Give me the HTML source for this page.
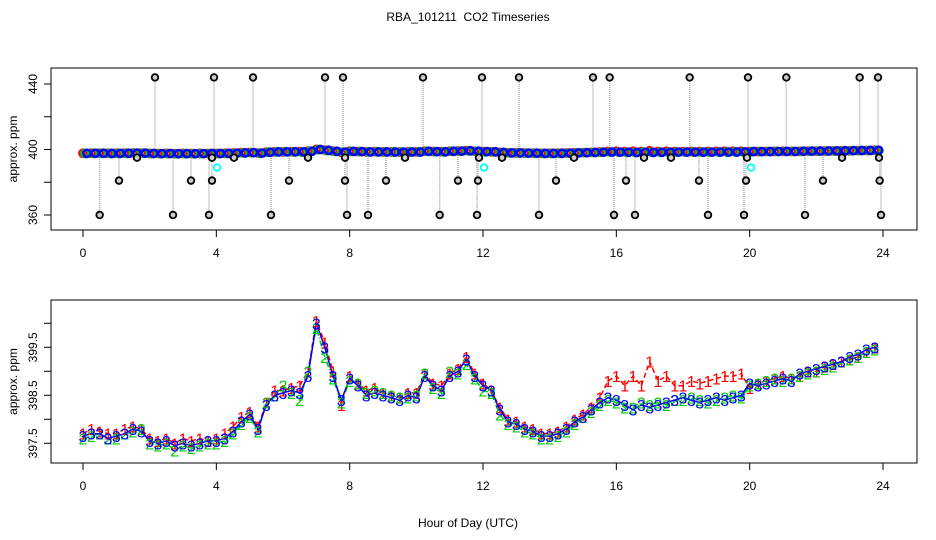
<!DOCTYPE html>
<html><head><meta charset="utf-8">
<style>
html,body{margin:0;padding:0;background:#fff;}
svg{display:block;font-family:"Liberation Sans",sans-serif;}
</style></head>
<body>
<svg id="chart" width="936" height="540" viewBox="0 0 936 540">
<text x="468" y="21" font-size="12" text-anchor="middle" style="white-space:pre">RBA_101211  CO2 Timeseries</text>
<text x="468" y="527" font-size="12" text-anchor="middle">Hour of Day (UTC)</text>
<g id="topPanel"></g>
<g id="botPanel"></g>
</svg>
<script>
const s3 = [397.65,397.7,397.7,397.6,397.65,397.7,397.8,397.75,
397.55,397.5,397.55,397.45,397.5,397.45,397.5,397.55,
397.55,397.6,397.75,397.95,398.1,397.8,398.3,398.5,
398.55,398.6,398.55,398.9,400.0,399.5,398.9,398.4,
398.85,398.7,398.5,398.55,398.5,398.45,398.4,398.5,
398.45,398.9,398.7,398.6,398.9,399.0,399.25,398.9,
398.7,398.6,398.2,397.95,397.9,397.8,397.75,397.65,
397.65,397.7,397.8,397.95,398.05,398.2,398.35,398.45,
398.4,398.3,398.2,398.3,398.25,398.3,398.35,398.4,
398.45,398.4,398.35,398.4,398.45,398.4,398.45,398.5,
398.75,398.7,398.75,398.8,398.85,398.8,398.95,399.0,
399.05,399.1,399.15,399.2,399.3,399.35,399.45,399.5];
const s1 = [397.7,397.8,397.75,397.7,397.7,397.8,397.85,397.8,
397.6,397.55,397.6,397.5,397.6,397.55,397.6,397.55,
397.6,397.7,397.85,398.05,398.15,397.85,398.35,398.6,
398.6,398.65,398.7,399.0,400.05,399.6,399.0,398.3,
398.9,398.75,398.6,398.65,398.55,398.5,398.45,398.55,
398.55,398.95,398.75,398.7,398.95,399.05,399.3,398.95,
398.75,398.6,398.25,398.0,397.95,397.85,397.8,397.7,
397.7,397.75,397.85,398.0,398.1,398.25,398.45,398.8,
398.9,398.7,398.9,398.7,399.2,398.8,398.9,398.7,
398.7,398.8,398.75,398.8,398.85,398.9,398.9,398.95,
398.65,398.75,398.8,398.85,398.9,398.85,398.9,399.0,
399.0,399.1,399.15,399.2,399.25,399.3,399.4,399.5];
const s2 = [397.6,397.65,397.7,397.6,397.6,397.7,397.75,397.8,
397.5,397.45,397.5,397.35,397.45,397.4,397.45,397.5,
397.5,397.55,397.7,397.9,398.05,397.75,398.35,398.5,
398.7,398.55,398.4,399.0,399.9,399.3,398.85,398.35,
398.8,398.75,398.55,398.6,398.55,398.5,398.45,398.45,
398.5,398.95,398.65,398.55,399.0,398.95,399.15,398.85,
398.6,398.55,398.1,397.9,397.85,397.75,397.7,397.6,
397.6,397.65,397.75,397.9,398.05,398.15,398.3,398.4,
398.35,398.25,398.25,398.35,398.3,398.35,398.3,398.4,
398.4,398.45,398.4,398.35,398.4,398.45,398.5,398.45,
398.7,398.75,398.8,398.85,398.8,398.85,398.9,398.95,
399.0,399.05,399.1,399.2,399.25,399.3,399.4,399.45];
const outHours = [2.16,3.93,5.1,7.26,7.8,10.2,11.97,13.08,15.3,15.8,18.2,19.95,21.1,23.3,23.85,
0.5,2.7,3.78,5.64,7.92,8.55,10.7,11.82,13.68,15.93,16.56,18.75,19.83,21.66,23.94,
1.08,3.24,3.87,6.18,7.86,9.09,11.25,11.85,14.19,16.29,18.48,19.89,22.2,23.9,
1.62,3.87,4.53,6.75,7.86,9.66,11.88,12.57,14.73,16.83,17.64,19.92,22.77,23.88];
const outValues = [444,444,444,444,444,444,444,444,444,444,444,444,444,444,444,
360,360,360,360,360,360,360,360,360,360,360,360,360,360,360,
381,381,381,381,381,381,381,381,381,381,381,381,381,381,
395,395,395,395,395,395,395,395,395,395,395,395,395,395];
const cyanHours = [4.02,12.03,20.04];
const cyanValues = [389,389,389];
const xTicks = [0,4,8,12,16,20,24];
const topYTicks = [360,380,400,420,440];
const topYLabels = ["360","","400","","440"];
const botYTicks = [397.5,398,398.5,399,399.5,400];
const botYLabels = ["397.5","","398.5","","399.5",""];

const NS="http://www.w3.org/2000/svg";
function mk(parent,tag,attrs){const e=document.createElementNS(NS,tag);for(const k in attrs)e.setAttribute(k,attrs[k]);parent.appendChild(e);return e;}
const xs=h=>83+h*(800/24);
const yTop=v=>84+(440-v)*(131/80);
const yBot=v=>443.3-(v-397.5)*48;
const hours=s3.map((_,i)=>i*0.25);

function frame(g,y0,y1,yfn,yt,yl,name){
  const box=mk(g,'rect',{x:51,y:y0,width:866,height:y1-y0,fill:'none',stroke:'#000','stroke-width':1});
  
  
  xTicks.forEach(t=>{
    const l=mk(g,'line',{x1:xs(t),x2:xs(t),y1:y1,y2:y1+7,stroke:'#000'});
    
    
    const tx=mk(g,'text',{x:xs(t),y:y1+27,'font-size':12,'text-anchor':'middle'});
    tx.textContent=t;
    
    
  });
  yt.forEach((t,i)=>{
    const l=mk(g,'line',{x1:44,x2:51,y1:yfn(t),y2:yfn(t),stroke:'#000'});
    
    
    if(yl[i]){
      const tx=mk(g,'text',{x:0,y:0,'font-size':12,'text-anchor':'middle',transform:`translate(37,${yfn(t)}) rotate(-90)`});
      tx.textContent=yl[i];
      
      
    }
  });
  const yt2=mk(g,'text',{x:0,y:0,'font-size':12,'text-anchor':'middle',transform:`translate(17,${(y0+y1)/2}) rotate(-90)`});
  yt2.textContent='approx. ppm';
  
  
}

// TOP
const topG=document.getElementById('topPanel');
frame(topG,68,230,yTop,topYTicks,topYLabels,'top');
const mainAt=h=>{const i=Math.min(s3.length-1,Math.round(h/0.25));return s3[i];};
outHours.forEach((h,i)=>{
  const l=mk(topG,'line',{x1:xs(h),x2:xs(h),y1:yTop(mainAt(h)),y2:yTop(outValues[i]),stroke:'#aaa','stroke-width':1.5,'stroke-dasharray':'1,1'});
  
  
});
[[s1,'#f00'],[s2,'#0c0'],[s3,'#00f']].forEach(([s,c],k)=>{
  s.forEach((v,i)=>{
    const p=mk(topG,'circle',{cx:xs(hours[i])+k*2,cy:yTop(v),r:3.6,fill:'none',stroke:c,'stroke-width':2.6});
    
    
  });
});
outHours.forEach((h,i)=>{
  const p=mk(topG,'circle',{cx:xs(h),cy:yTop(outValues[i]),r:3.3,fill:'#ccc',stroke:'#000','stroke-width':1.8});
  
  
});
cyanHours.forEach((h,i)=>{
  const p=mk(topG,'circle',{cx:xs(h),cy:yTop(cyanValues[i]),r:3.3,fill:'none',stroke:'#0ff','stroke-width':1.8});
  
  
});

// BOTTOM
const botG=document.getElementById('botPanel');
frame(botG,300,463,yBot,botYTicks,botYLabels,'bottom');
const styles=[[s1,'#f00','5,3','1'],[s2,'#0c0','6,2,1,2','2'],[s3,'#00f','','3']];
styles.forEach(([s,c,d,lab])=>{
  const pts=s.map((v,i)=>xs(hours[i]).toFixed(1)+','+yBot(v).toFixed(1)).join(' ');
  const pl=mk(botG,'polyline',{points:pts,fill:'none',stroke:c,'stroke-width':1.5,'stroke-dasharray':d});
  
  
});
styles.forEach(([s,c,d,lab])=>{
  s.forEach((v,i)=>{
    const t=mk(botG,'text',{x:xs(hours[i]),y:yBot(v)+6,'font-size':16,'text-anchor':'middle',fill:c});
    t.textContent=lab;
    
    
  });
});
</script>
</body></html>
